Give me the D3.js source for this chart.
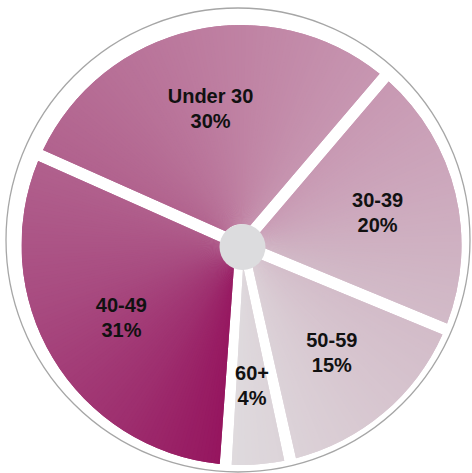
<!DOCTYPE html>
<html>
<head>
<meta charset="utf-8">
<script src="https://cdn.jsdelivr.net/npm/d3@7"></script>
<style>
  html, body { margin: 0; padding: 0; background: #fff; }
  svg { display: block; }
</style>
</head>
<body>
<svg id="chart" width="472" height="473"></svg>
<script>
// data, in clockwise order from the top
var categories = ["Under 30", "30-39", "50-59", "60+", "40-49"];
var shares     = [30, 20, 15, 4, 31];
var pctLabels  = ["30%", "20%", "15%", "4%", "31%"];

var svg = d3.select("#chart");

var cx = 241.5, cy = 245,
    radius = 220,
    hubRadius = 23,
    gap = 12,
    startDeg = -66;

var deg = Math.PI / 180;

// conic shading: dark plum at the bottom, fading clockwise to pale grey
var shadeStops  = [0, 30, 70, 115, 170, 225, 280, 320, 360];
var shadeColors = ["#95145e", "#9e2f6f", "#a84b80", "#b2648f", "#be7fa1",
                   "#c99cb5", "#d1b8c6", "#d8c8d1", "#dfdbde"];
var shade = d3.scaleLinear().domain(shadeStops).range(shadeColors)
    .interpolate(d3.interpolateRgb);

// outer ring
svg.append("circle")
  .attr("cx", 238).attr("cy", 240).attr("r", 232)
  .attr("fill", "none")
  .attr("stroke", "#a6a6a6")
  .attr("stroke-width", 1.3);

var pie = d3.pie()
  .sort(null)
  .value(function(d) { return d; })
  .startAngle(startDeg * deg)
  .endAngle((startDeg + 360) * deg)
  .padAngle(gap / radius);

var arcs = pie(shares);
// shading starts where the last slice (40-49) begins
var shadeOrigin = arcs[arcs.length - 1].startAngle;

var sliceArc = d3.arc()
  .innerRadius(hubRadius - 2)
  .outerRadius(radius)
  .padRadius(radius);

var g = svg.append("g").attr("transform", "translate(" + cx + "," + cy + ")");

// one clip made of all slices
var clip = svg.append("defs").append("clipPath").attr("id", "slices");
clip.selectAll("path").data(arcs)
  .enter().append("path")
    .attr("d", sliceArc);

// thin wedges all round, coloured by angle, shown only through the slices
// (each one overlaps the next so no seams show)
var wedges = d3.range(360).map(function(k) {
  var a0 = shadeOrigin + k * deg;
  return {startAngle: a0, endAngle: a0 + 2 * deg, t: k + 0.5};
});
var wedge = d3.arc().innerRadius(0).outerRadius(radius + 3);

g.append("g").attr("clip-path", "url(#slices)")
  .selectAll("path").data(wedges)
  .enter().append("path")
    .attr("d", wedge)
    .attr("fill", function(d) { return shade(d.t); });

// centre hub
g.append("circle")
  .attr("cx", 1).attr("cy", 2)
  .attr("r", hubRadius)
  .attr("fill", "#dcdcde");

// labels
var labelArc = d3.arc().innerRadius(140).outerRadius(140);
var labels = g.selectAll("text.lbl").data(arcs)
  .enter().append("text")
    .attr("class", "lbl")
    .attr("transform", function(d) { return "translate(" + labelArc.centroid(d) + ")"; })
    .attr("text-anchor", "middle")
    .style("font-family", "'Liberation Sans', Arial, sans-serif")
    .style("font-weight", "bold")
    .style("font-size", "20px")
    .attr("fill", "#111");

labels.append("tspan")
  .attr("x", 0).attr("y", -5)
  .text(function(d, i) { return categories[i]; });
labels.append("tspan")
  .attr("x", 0).attr("y", 20)
  .text(function(d, i) { return pctLabels[i]; });
</script>
</body>
</html>
